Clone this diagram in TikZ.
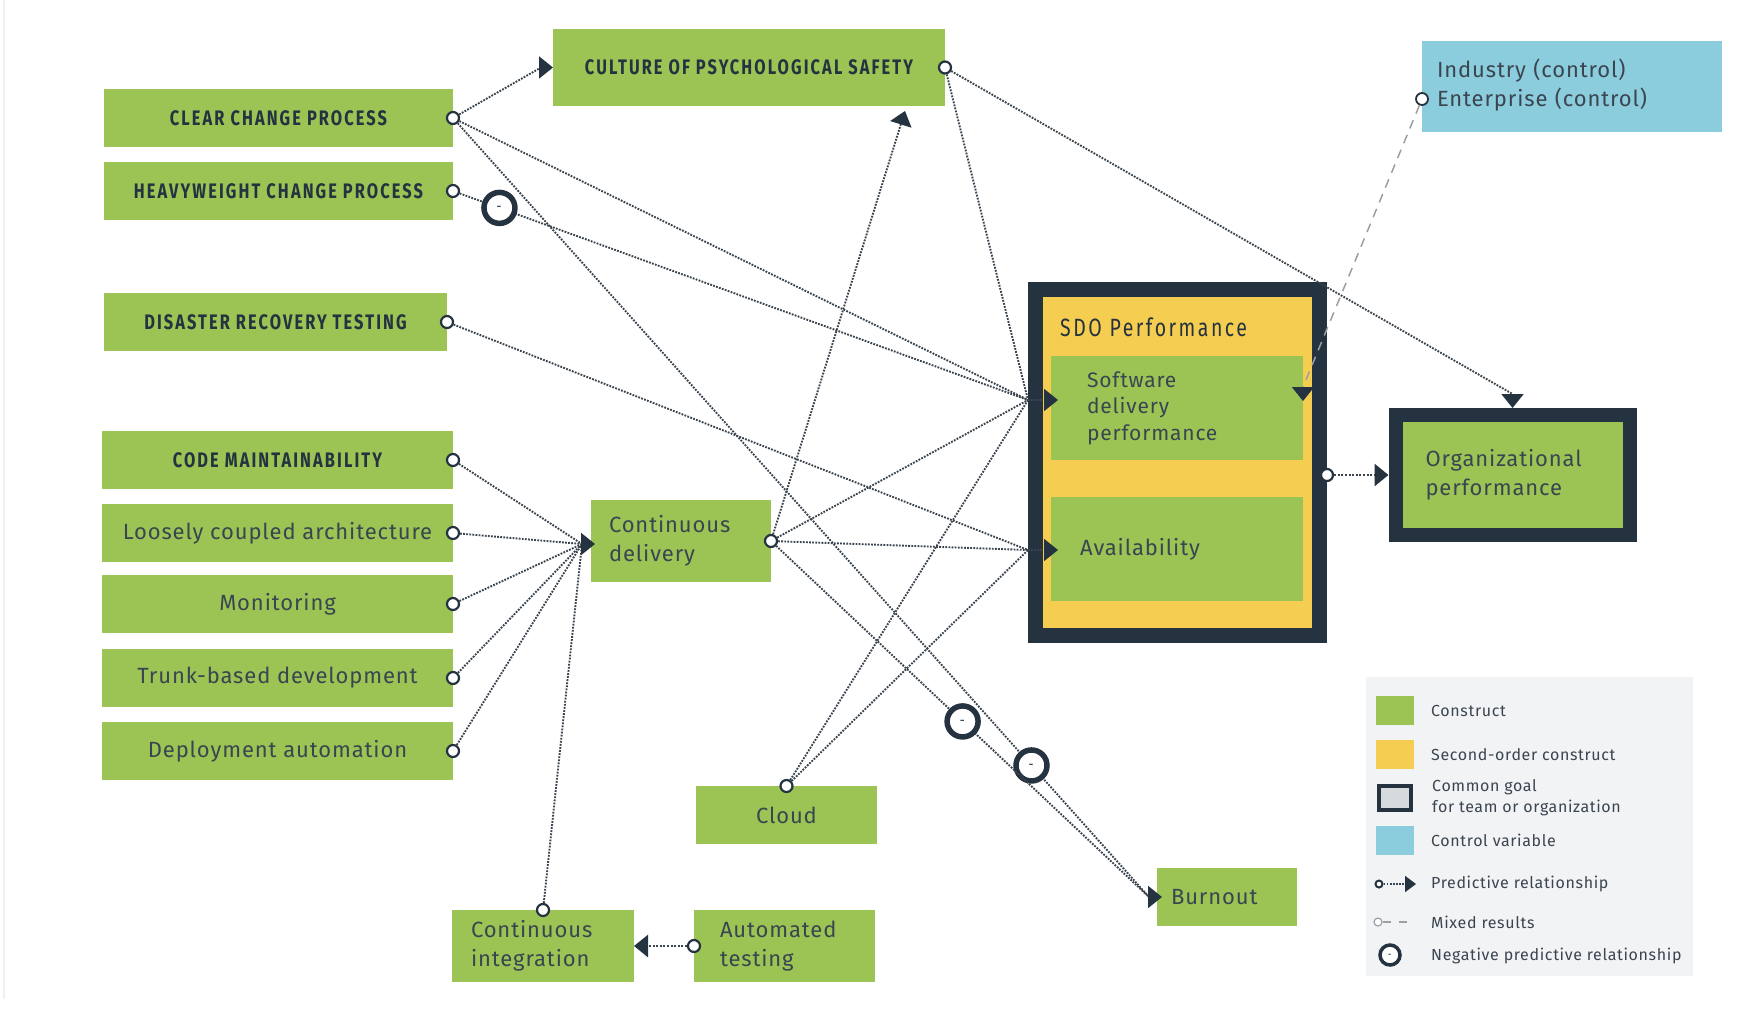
\documentclass[tikz,border=0pt]{standalone}
\usepackage{fontspec}
\usetikzlibrary{arrows.meta,positioning,calc}
\newfontfamily\bodyfont{Fira Sans}[LetterSpace=4]
\newfontfamily\capsfont{Fira Sans}[FakeStretch=0.78,LetterSpace=10]
\definecolor{cgreen}{HTML}{9BC455}
\definecolor{cyellow}{HTML}{F5CD51}
\definecolor{cblue}{HTML}{8BCDDC}
\definecolor{cnavy}{HTML}{25323F}
\definecolor{ctext}{HTML}{3A4550}
\definecolor{clink}{HTML}{3A444E}
\definecolor{cmixed}{HTML}{9A9FA5}
\definecolor{clegend}{HTML}{F2F3F5}
\definecolor{cgrey}{HTML}{D6DADD}
\definecolor{cedge}{HTML}{F0F0F0}

\tikzset{
  box/.style={fill=cgreen, text=ctext, inner sep=0pt, outer sep=0pt,
    font=\bodyfont\fontsize{22}{29}\selectfont},
  capsbox/.style={box, text=cnavy, font=\capsfont\bfseries\fontsize{21}{24}\selectfont},
  lbox/.style={minimum width=351, minimum height=58},
  goal/.style={draw=cnavy, line width=15pt, outer sep=7.5pt},
  port/.style={circle, draw=cnavy, fill=white, line width=2.2pt, minimum size=12pt, inner sep=0pt, solid},
  link/.style={draw=clink, line width=1.9pt, dash pattern=on 1.8pt off 1.3pt},
  thicklink/.style={draw=clink, line width=2.8pt, dash pattern=on 2pt off 1.6pt},
  mixed/.style={draw=cmixed, line width=1.5pt, dash pattern=on 9pt off 7pt},
  arr/.style={-{Triangle[length=14pt,width=22pt,color=cnavy]}},
  neg/.style={circle, draw=cnavy, fill=white, line width=5.5pt, minimum size=31pt, inner sep=0pt, solid,
    text=cnavy, font=\bfseries\fontsize{12}{12}\selectfont},
  swatch/.style={minimum width=38, minimum height=29, inner sep=0pt, outer sep=0pt},
  legtext/.style={text=ctext, inner sep=0pt, anchor=west, font=\bodyfont\fontsize{16}{21}\selectfont},
}

\begin{document}
\begin{tikzpicture}[x=1pt,y=-1pt]
  \useasboundingbox (0,0) rectangle (1742,1026);
  \draw[cedge, line width=1.5pt] (4,0) -- (4,999);

  % left column
  \node[capsbox, minimum width=349, minimum height=58] (cc) at (278.5,118) {CLEAR CHANGE PROCESS};
  \node[capsbox, minimum width=349, minimum height=58] (hw) at (278.5,191) {HEAVYWEIGHT CHANGE PROCESS};
  \node[capsbox, minimum width=343, minimum height=58] (dr) at (275.5,322) {DISASTER RECOVERY TESTING};
  \node[capsbox, lbox] (cm) at (277.5,460) {CODE MAINTAINABILITY};
  \node[box, lbox] (lc) at (277.5,533) {Loosely coupled architecture};
  \node[box, lbox] (mon) at (277.5,604) {Monitoring};
  \node[box, lbox] (tbd) at (277.5,678) {Trunk-based development};
  \node[box, lbox] (da) at (277.5,751) {Deployment automation};

  % middle
  \node[capsbox, minimum width=392, minimum height=77] (cps) at (749,67.5) {CULTURE OF PSYCHOLOGICAL SAFETY};
  \node[box, text width=144, inner xsep=18, align=left, minimum height=82] (cd) at (681,541) {Continuous\\delivery};
  \node[box, minimum width=181, minimum height=58] (cloud) at (786.5,815) {Cloud};
  \node[box, text width=144, inner xsep=19, align=left, minimum height=72] (ci) at (543,946) {Continuous\\integration};
  \node[box, text width=129, inner xsep=26, align=left, minimum height=72] (at) at (784.5,946) {Automated\\testing};
  \node[box, text width=112, inner xsep=14, align=left, minimum height=58] (bo) at (1227,897) {Burnout};

  % right side
  \node[goal, fill=cyellow, minimum width=284, minimum height=346, inner sep=0pt] (sdo) at (1177.5,462.5) {};
  \node[text=cnavy, anchor=west, inner sep=0pt, font=\capsfont\fontsize{25}{25}\selectfont] (sdolbl) at (1060,327) {SDO Performance};
  \node[box, text width=180, inner xsep=36, align=left, minimum height=104,
    font=\bodyfont\fontsize{21}{26.5}\selectfont] (sdp) at (1177,408) {Software\\delivery\\performance};
  \node[box, text width=194, inner xsep=29, align=left, minimum height=104] (av) at (1177,549) {Availability};
  \node[box, goal, line width=14pt, outer sep=7pt, text width=174, inner xsep=30, align=left, minimum height=120] (op) at (1512.5,475) {Organizational\\performance};
  \node[box, fill=cblue, text width=270, inner xsep=15, align=left, minimum height=91] (ind) at (1572,86.5) {Industry (control)\\Enterprise (control)\rule[-8pt]{0pt}{0pt}};

  \coordinate (cdin) at (582,544);
  \coordinate (sdpin) at (1028,400);
  \coordinate (avin) at (1028,550);
  \coordinate (boin) at ([xshift=-8pt]bo.west);

  % ports
  \foreach \n in {cc,hw,dr,cm,lc,mon,tbd,da,cps,cd}
    \node[port] (\n-o) at (\n.east) {};
  \node[port] (cloud-o) at (cloud.north) {};
  \node[port] (ci-o) at (ci.north) {};
  \node[port] (at-o) at (at.west) {};
  \node[port] (sdo-o) at (sdo.east |- op.west) {};
  \node[port, line width=1.8pt] (ind-o) at ([yshift=-12.5pt]ind.west) {};

  % links
  \draw[link, arr] (cc-o) -- ([xshift=-12pt]cps.west) -- (cps.west);
  \draw[link] (cc-o) -- (sdpin);
  \draw[link] (cc-o) -- node[neg, pos=0.83] (neg1) {-} (boin);
  \draw[link] (hw-o) -- node[neg, pos=0.07] (neg2) {-} (sdpin);
  \draw[link] (dr-o) -- (avin);
  \draw[link] (cps-o) -- (sdpin);
  \draw[link, arr] (cps-o) -- ([yshift=14pt]op.north) -- (op.north);
  \draw[mixed, arr] (ind-o) -- ([yshift=21pt]sdp.east) -- ([yshift=7pt]sdp.east);
  \foreach \n in {cm,lc,mon,tbd,da}
    \draw[link] (\n-o) -- (cdin);
  \draw[link] (ci-o) -- (cdin);
  \draw[link, arr] (cdin) -- ([xshift=4pt]cd.west |- cdin);
  \draw[thicklink, arr] (at-o) -- (ci.east);
  \draw[link, arr] (cd-o) -- ([xshift=-40pt,yshift=-5pt]cps.south east);
  \draw[link] (cd-o) -- (sdpin);
  \draw[link] (cd-o) -- (avin);
  \draw[link] (cd-o) -- node[neg, pos=0.5] (neg3) {-} (boin);
  \draw[link, arr] (boin) -- ([xshift=5pt]bo.west);
  \draw[link] (cloud-o) -- (sdpin);
  \draw[link] (cloud-o) -- (avin);
  \draw[link, arr] (sdpin) -- ([xshift=7pt]sdp.west |- sdpin);
  \draw[link, arr] (avin) -- ([xshift=7pt]av.west |- avin);
  \draw[thicklink, arr] (sdo-o) -- (op.west);

  % legend
  \node[fill=clegend, minimum width=327, minimum height=299, inner sep=0pt] (legend) at (1529.5,826.5) {};
  \node[swatch, fill=cgreen] (lg1) at (1395,710.5) {};
  \node[swatch, fill=cyellow] (lg2) at (1395,754.5) {};
  \node[swatch, fill=cgrey, draw=cnavy, line width=4pt, minimum width=32, minimum height=24] (lg3) at (1395,798) {};
  \node[swatch, fill=cblue] (lg4) at (1395,840) {};
  \node[legtext, right=17pt of lg1] (lt1) {Construct};
  \node[legtext, right=17pt of lg2] (lt2) {Second-order construct};
  \node[legtext, align=left, right=21pt of lg3] (lt3) {Common goal\\for team or organization};
  \node[legtext, right=17pt of lg4] (lt4) {Control variable};
  \node[port, minimum size=7pt, line width=2pt] (lgp) at (1379,884) {};
  \coordinate (lgpt) at (1416,884);
  \draw[link, -{Triangle[length=11pt,width=16pt,color=cnavy]}] (lgp) -- (lgpt);
  \node[legtext] (lt5) at (1431,884) {Predictive relationship};
  \node[port, draw=cmixed, minimum size=8pt, line width=1.2pt] (lgm) at (1378,922) {};
  \coordinate (lgmt) at (1412,922);
  \draw[mixed, dash pattern=on 8pt off 8pt] (lgm) -- (lgmt);
  \node[legtext] (lt6) at (1431,922) {Mixed results};
  \node[neg, minimum size=20pt, line width=3.5pt, font=\bfseries\fontsize{8}{8}\selectfont] (lgn) at (1390,955) {-};
  \node[legtext] (lt7) at (1431,956) {Negative predictive relationship};
\end{tikzpicture}
\end{document}
